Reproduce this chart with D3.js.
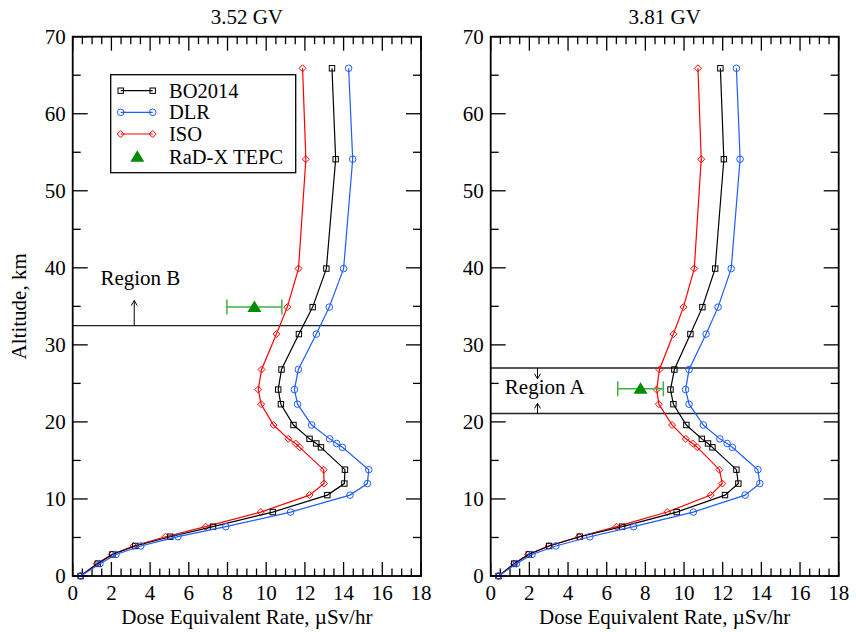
<!DOCTYPE html>
<html><head><meta charset="utf-8">
<script src="https://cdn.jsdelivr.net/npm/d3@7"></script>
<style>body{margin:0;background:#fff}svg{display:block}text{font-family:"Liberation Serif","Times New Roman",serif;fill:#000}</style>
</head><body>
<svg id="c" width="856" height="632"></svg>
<script>
const altitudes = [0, 1.6, 2.8, 3.9, 5.1, 6.4, 8.3, 10.5, 12.0, 13.8, 16.7, 17.2, 17.8, 19.6, 22.3, 24.2, 26.8, 31.4, 34.9, 39.9, 54.1, 65.9];
const panelTitles = ["3.52 GV", "3.81 GV"];
const seriesNames = ["BO2014", "DLR", "ISO", "RaD-X TEPC"];
const bo2014_352 = [0.41,1.29,2.05,3.23,5.04,7.25,10.34,13.16,14.04,14.07,12.83,12.59,12.24,11.41,10.76,10.62,10.79,11.69,12.40,13.11,13.59,13.40];
const dlr_352 = [0.41,1.41,2.24,3.52,5.44,7.91,11.26,14.33,15.23,15.30,13.94,13.64,13.28,12.35,11.62,11.46,11.66,12.59,13.26,14.00,14.47,14.26];
const iso_352 = [0.41,1.24,2.02,3.14,4.80,6.87,9.72,12.24,12.99,12.97,11.73,11.52,11.14,10.38,9.74,9.59,9.76,10.53,11.09,11.67,12.05,11.88];
const bo2014_381 = [0.41,1.21,1.97,3.02,4.61,6.80,9.62,12.12,12.81,12.71,11.47,11.24,10.92,10.12,9.45,9.30,9.50,10.33,10.95,11.61,12.06,11.88];
const dlr_381 = [0.41,1.33,2.14,3.37,5.13,7.39,10.48,13.16,13.92,13.82,12.50,12.23,11.85,11.00,10.26,10.08,10.26,11.14,11.76,12.44,12.90,12.71];
const iso_381 = [0.41,1.21,1.93,3.00,4.57,6.51,9.13,11.38,11.98,11.83,10.69,10.45,10.09,9.38,8.70,8.58,8.73,9.45,9.97,10.53,10.89,10.72];
// RaD-X TEPC: [dose, altitude, error]
const tepc_352 = [9.39, 34.9, 1.42];
const tepc_381 = [7.75, 24.3, 1.18];
const xTicks = [0,2,4,6,8,10,12,14,16,18];
const yTicks = [0,10,20,30,40,50,60,70];
const regionB = [32.5];
const regionA = [27.0, 21.1];

const colors = {BO2014:"#000000", DLR:"#1f5cff", ISO:"#ff0000", TEPC:"#008c00", bar:"#3cb043"};
const svg = d3.select("#c");
const plotTop = 36.7, plotBottom = 576;
const panels = [
  {x0:72.7, x1:421, title:panelTitles[0], bo:bo2014_352, dlr:dlr_352, iso:iso_352, tepc:tepc_352, legend:true},
  {x0:490.7, x1:838.7, title:panelTitles[1], bo:bo2014_381, dlr:dlr_381, iso:iso_381, tepc:tepc_381, legend:false}
];

function marker(g, type, cx, cy, color){
  if(type==="square") g.append("rect").attr("x",cx-2.7).attr("y",cy-2.7).attr("width",5.4).attr("height",5.4).attr("fill","none").attr("stroke",color).attr("stroke-width",1);
  else if(type==="circle") g.append("circle").attr("cx",cx).attr("cy",cy).attr("r",3.3).attr("fill","none").attr("stroke",color).attr("stroke-width",1);
  else if(type==="diamond") g.append("path").attr("d",`M${cx},${cy-3.5}L${cx+3.5},${cy}L${cx},${cy+3.5}L${cx-3.5},${cy}Z`).attr("fill","none").attr("stroke",color).attr("stroke-width",1);
}
function triangle(g, cx, cy){
  g.append("path").attr("d",`M${cx},${cy-6.5}L${cx+7},${cy+5}L${cx-7},${cy+5}Z`).attr("fill",colors.TEPC);
}
function arrow(g, x, yFrom, yTo){
  const dir = yTo < yFrom ? 1 : -1;
  g.append("line").attr("x1",x).attr("x2",x).attr("y1",yFrom).attr("y2",yTo).attr("stroke","#000").attr("stroke-width",1);
  g.append("path").attr("d",`M${x-3},${yTo+dir*5}L${x},${yTo}L${x+3},${yTo+dir*5}`).attr("fill","none").attr("stroke","#000").attr("stroke-width",1);
}

panels.forEach((p, pi) => {
  const x = d3.scaleLinear().domain([0,18]).range([p.x0, p.x1]);
  const y = d3.scaleLinear().domain([0,70]).range([plotBottom, plotTop]);
  const g = svg.append("g");
  const xMinor = d3.range(0, 18.01, 0.5).filter(v => v % 2 !== 0);
  const yMinor = d3.range(5, 70, 10);

  const tk = g.append("g").attr("stroke","#000").attr("stroke-width",1.3);
  xTicks.forEach(v => { tk.append("line").attr("x1",x(v)).attr("x2",x(v)).attr("y1",plotBottom).attr("y2",plotBottom-14);
                        tk.append("line").attr("x1",x(v)).attr("x2",x(v)).attr("y1",plotTop).attr("y2",plotTop+14); });
  xMinor.forEach(v => { tk.append("line").attr("x1",x(v)).attr("x2",x(v)).attr("y1",plotBottom).attr("y2",plotBottom-7.5);
                        tk.append("line").attr("x1",x(v)).attr("x2",x(v)).attr("y1",plotTop).attr("y2",plotTop+7.5); });
  yTicks.forEach(v => { tk.append("line").attr("y1",y(v)).attr("y2",y(v)).attr("x1",p.x0).attr("x2",p.x0+15);
                        tk.append("line").attr("y1",y(v)).attr("y2",y(v)).attr("x1",p.x1).attr("x2",p.x1-15); });
  yMinor.forEach(v => { tk.append("line").attr("y1",y(v)).attr("y2",y(v)).attr("x1",p.x0).attr("x2",p.x0+8);
                        tk.append("line").attr("y1",y(v)).attr("y2",y(v)).attr("x1",p.x1).attr("x2",p.x1-8); });

  xTicks.forEach(v => g.append("text").attr("x",x(v)).attr("y",599.5).attr("text-anchor","middle").attr("font-size",21).text(v));
  yTicks.forEach(v => g.append("text").attr("x",p.x0-7).attr("y",y(v)+7).attr("text-anchor","end").attr("font-size",21).text(v));

  g.append("text").attr("x",(p.x0+p.x1)/2).attr("y",24).attr("text-anchor","middle").attr("font-size",21).text(p.title);
  g.append("text").attr("x",(p.x0+p.x1)/2).attr("y",624).attr("text-anchor","middle").attr("font-size",21).text("Dose Equivalent Rate, \u00B5Sv/hr");

  const regs = pi===0 ? regionB : regionA;
  regs.forEach(v => g.append("line").attr("x1",p.x0).attr("x2",p.x1).attr("y1",y(v)).attr("y2",y(v)).attr("stroke","#222").attr("stroke-width",1.4));
  if(pi===0){
    g.append("text").attr("x",x(3.5)).attr("y",y(37.8)).attr("text-anchor","middle").attr("font-size",21).text("Region B");
    arrow(g, x(3.18), y(regionB[0]), y(35.75));
  } else {
    g.append("text").attr("x",x(2.8)).attr("y",y(23.6)).attr("text-anchor","middle").attr("font-size",21).text("Region A");
    arrow(g, x(2.42), y(regionA[0]), y(25.6));
    arrow(g, x(2.42), y(regionA[1]), y(22.4));
  }

  const line = d3.line().x(d => x(d[0])).y(d => y(d[1]));
  const ser = [
    {vals:p.iso, color:colors.ISO, m:"diamond"},
    {vals:p.bo, color:colors.BO2014, m:"square"},
    {vals:p.dlr, color:colors.DLR, m:"circle"}
  ];
  ser.forEach(s => {
    const pts = s.vals.map((v,i) => [v, altitudes[i]]);
    g.append("path").attr("d", line(pts)).attr("fill","none").attr("stroke",s.color).attr("stroke-width",1.2);
    pts.forEach(d => marker(g, s.m, x(d[0]), y(d[1]), s.color));
  });

  const [tv, ta, te] = p.tepc;
  const eb = g.append("g").attr("stroke",colors.bar).attr("stroke-width",1.5);
  eb.append("line").attr("x1",x(tv-te)).attr("x2",x(tv+te)).attr("y1",y(ta)).attr("y2",y(ta));
  eb.append("line").attr("x1",x(tv-te)).attr("x2",x(tv-te)).attr("y1",y(ta)-7.5).attr("y2",y(ta)+7.5);
  eb.append("line").attr("x1",x(tv+te)).attr("x2",x(tv+te)).attr("y1",y(ta)-7.5).attr("y2",y(ta)+7.5);
  triangle(g, x(tv), y(ta));

  g.append("rect").attr("x",p.x0).attr("y",plotTop).attr("width",p.x1-p.x0).attr("height",plotBottom-plotTop).attr("fill","none").attr("stroke","#000").attr("stroke-width",1.8);

  if(p.legend){
    const lg = svg.append("g");
    lg.append("rect").attr("x",110.7).attr("y",74.7).attr("width",185).attr("height",98).attr("fill","#fff").attr("stroke","#000").attr("stroke-width",1.3);
    const ys = [90.7, 112.3, 134, 156.7];
    const lcol = [colors.BO2014, colors.DLR, colors.ISO];
    const lm = ["square","circle","diamond"];
    seriesNames.forEach((n,i) => {
      if(i<3){
        lg.append("line").attr("x1",120.7).attr("x2",152.7).attr("y1",ys[i]).attr("y2",ys[i]).attr("stroke",lcol[i]).attr("stroke-width",1.2);
        marker(lg, lm[i], 120.7, ys[i], lcol[i]);
        marker(lg, lm[i], 152.7, ys[i], lcol[i]);
      } else {
        triangle(lg, 137.3, ys[i]);
      }
      lg.append("text").attr("x",169).attr("y",ys[i]+7).attr("font-size",20.5).text(n);
    });
  }
});

svg.append("text").attr("transform",`translate(26,${(plotTop+plotBottom)/2}) rotate(-90)`).attr("text-anchor","middle").attr("font-size",21).text("Altitude, km");
</script>
</body></html>
